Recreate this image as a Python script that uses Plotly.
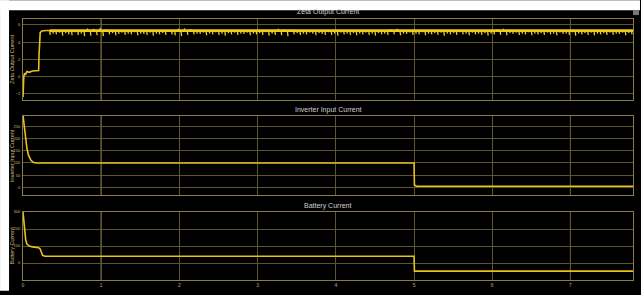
import numpy as np
import plotly.graph_objects as go

# ---------------- data ----------------
x_ticks = [0, 1, 2, 3, 4, 5, 6, 7]

# Zeta output current: start-up transient
zeta_t_start = [0, 0.005, 0.01, 0.02, 0.03, 0.05, 0.08, 0.12, 0.16, 0.2, 0.205, 0.21, 0.22, 0.24, 0.27, 0.3, 0.34]
zeta_i_start = [-2.4, -1.0, 0.0, 0.4, 0.2, 0.6, 0.5, 0.65, 0.7, 0.7, 2.5, 4.5, 5.1, 5.3, 5.35, 5.35, 5.35]
# Zeta output current: steady upper envelope of the ripple
zeta_level_t = [0.34, 7.8]
zeta_level_i = [5.35, 5.35]
# Zeta output current: ripple spike extremes sampled from t = 0.34 to t = 7.78
zeta_ripple_span = [0.34, 7.78]
zeta_ripple = [
    4.85, 5.0, 4.9, 5.1, 4.75, 5.05, 4.9, 4.8, 5.15, 4.85, 5.0, 4.7, 5.6, 4.75, 5.55, 4.8, 5.65, 4.7, 5.5, 4.9,
    5.05, 4.8, 4.95, 5.1, 4.85, 5.0, 4.9, 5.15, 4.8, 5.0, 4.95, 4.85, 5.1, 4.75, 5.0, 4.9, 5.05, 4.85, 5.2, 4.9,
    4.8, 5.55, 4.7, 5.6, 4.85, 5.5, 4.9, 5.0, 4.95, 5.1, 4.8, 5.0, 4.9, 5.15, 4.85, 5.0, 4.75, 5.05, 4.9, 5.1,
    4.85, 5.0, 4.95, 5.1, 4.8, 5.0, 4.9, 5.05, 4.85, 5.15, 4.75, 5.0, 4.85, 5.55, 4.8, 5.5, 4.7, 5.45, 4.9, 5.05,
    4.85, 5.0, 4.9, 5.1, 5.0, 4.8, 5.05, 4.95, 4.85, 5.15, 4.85, 5.0, 4.75, 5.1, 4.9, 5.0, 4.85, 5.05, 4.8, 5.0,
    4.9, 5.1, 4.85, 5.0, 4.75, 5.05, 4.9, 5.0, 4.85, 5.5, 4.9, 5.55, 4.8, 5.0, 4.95, 5.1, 4.85, 5.0, 4.9, 5.15,
    4.8, 5.0, 4.9, 5.05, 4.85, 5.1, 4.75, 5.0, 4.9, 5.05, 4.85, 5.15, 4.9, 5.0, 4.8, 5.1, 4.9, 5.0, 4.85, 5.05,
    4.75, 5.0, 4.9, 5.5, 4.85, 5.55, 4.8, 5.05, 4.95, 5.1, 4.85, 5.0, 4.9, 5.15, 4.8, 5.0, 4.9, 5.05, 4.85, 5.1,
    4.9, 5.0, 4.8, 5.1, 4.95, 5.0, 4.85, 5.15, 4.75, 5.0, 4.9, 5.05, 4.85, 5.1, 4.8, 5.0, 4.9, 5.05, 4.85, 5.1,
    4.85, 5.0, 4.95, 5.1, 4.8, 5.05, 4.9,
]
zeta_ticks = [-2, 0, 2, 4, 6]

# Inverter input current
inv_t = [0, 0.01, 0.02, 0.03, 0.05, 0.07, 0.1, 0.13, 0.17, 0.25, 5.0, 5.005, 5.03, 7.8]
inv_i = [295, 270, 240, 205, 160, 132, 112, 103, 100, 100, 100, 10, 5, 5]
inv_ticks = [0, 50, 100, 150, 200, 250]

# Battery current
bat_t = [0, 0.01, 0.02, 0.035, 0.05, 0.08, 0.12, 0.17, 0.2, 0.22, 0.25, 0.28, 5.0, 5.005, 7.8]
bat_i = [300, 240, 180, 135, 112, 100, 95, 92, 90, 82, 45, 40, 40, -48, -48]
bat_ticks = [0, 100, 200, 300]

titles = ["Zeta Output Current", "Inverter Input Current", "Battery Current"]
ylabels = ["Zeta Output Current", "Inverter Input Current", "Battery Current"]

# ---------------- figure ----------------
W, H = 641, 295
ML, MR, MT, MB = 23, 7, 19, 11
PW, PH = W - ML - MR, H - MT - MB

def px_x(px):
    return (px - ML) / PW

def px_y(py):
    return (H - MB - py) / PH

LINE = "#e8c21a"
GRID = "#5c5530"
FRAME = "#8a7d45"
TXT = "#d0d0d0"
TICKTXT = "#c8b870"

ripple_t = np.linspace(zeta_ripple_span[0], zeta_ripple_span[1], len(zeta_ripple))
# each ripple sample is drawn as a spike from the steady level to its extreme value
spike_x, spike_y = [], []
for t, v in zip(ripple_t, zeta_ripple):
    spike_x += [t, t + 0.008, None]
    spike_y += [zeta_level_i[0], v, None]

fig = go.Figure()
fig.add_trace(go.Scatter(x=zeta_t_start, y=zeta_i_start, mode="lines",
                         line=dict(color=LINE, width=1.6), xaxis="x", yaxis="y", showlegend=False))
fig.add_trace(go.Scatter(x=spike_x, y=spike_y, mode="lines", connectgaps=False,
                         line=dict(color="#f0cc20", width=1.3), xaxis="x", yaxis="y", showlegend=False))
fig.add_trace(go.Scatter(x=zeta_level_t, y=zeta_level_i, mode="lines",
                         line=dict(color="#f0cc20", width=2.8), xaxis="x", yaxis="y", showlegend=False))
fig.add_trace(go.Scatter(x=inv_t, y=inv_i, mode="lines",
                         line=dict(color=LINE, width=1.6), xaxis="x2", yaxis="y2", showlegend=False))
fig.add_trace(go.Scatter(x=bat_t, y=bat_i, mode="lines",
                         line=dict(color=LINE, width=1.6), xaxis="x3", yaxis="y3", showlegend=False))

domains = [
    [px_y(101), px_y(19)],
    [px_y(198), px_y(117)],
    [px_y(284), px_y(215)],
]
yranges = [[-2.69, 6.69], [-32, 294], [-100, 300]]
ytickvals = [zeta_ticks, inv_ticks, bat_ticks]

axis_common = dict(showgrid=True, gridcolor=GRID, gridwidth=1, zeroline=False,
                   showline=True, linecolor=FRAME, linewidth=1, mirror=True,
                   ticks="", tickfont=dict(size=4, color=TICKTXT, family="Liberation Sans"))

layout = dict(
    width=W, height=H,
    margin=dict(l=ML, r=MR, t=MT, b=MB),
    paper_bgcolor="black", plot_bgcolor="black",
    showlegend=False,
)
for k in range(3):
    sx = "" if k == 0 else str(k + 1)
    layout["xaxis" + sx] = dict(axis_common, domain=[0, 1], range=[0, 7.8],
                                tickvals=x_ticks, showticklabels=(k == 2),
                                anchor="y" + sx,
                                tickfont=dict(size=5, color="#aaaaaa", family="Liberation Sans"))
    layout["yaxis" + sx] = dict(axis_common, domain=domains[k], range=yranges[k],
                                tickvals=ytickvals[k], anchor="x" + sx, ticklabelstandoff=1)
fig.update_layout(**layout)

# panel titles and y labels
title_y = [px_y(12), px_y(111), px_y(209)]
label_y = [px_y(60), px_y(157.5), px_y(249.5)]
for k in range(3):
    fig.add_annotation(text=titles[k], xref="paper", yref="paper", x=0.5, y=title_y[k],
                       showarrow=False, font=dict(size=7, color=TXT, family="Liberation Sans"),
                       xanchor="center", yanchor="middle")
    fig.add_annotation(text=ylabels[k], xref="paper", yref="paper", x=px_x(12.5), y=label_y[k],
                       textangle=-90, showarrow=False,
                       font=dict(size=5.5, color=TICKTXT, family="Liberation Sans"),
                       xanchor="center", yanchor="middle")

# bright cursor-like vertical lines at x = 1 and x = 7
for k in range(3):
    sx = "" if k == 0 else str(k + 1)
    for xv in (1, 7):
        fig.add_shape(type="line", xref="x" + sx, yref="y" + sx + " domain",
                      x0=xv, x1=xv, y0=0, y1=1, line=dict(color="#cfc27a", width=1), layer="below")

# white outer strips (top and left) of the screenshot
fig.add_shape(type="rect", xref="paper", yref="paper", x0=px_x(0), x1=px_x(W), y0=px_y(10), y1=px_y(0),
              fillcolor="white", line=dict(width=0), layer="above")
fig.add_shape(type="rect", xref="paper", yref="paper", x0=px_x(0), x1=px_x(9), y0=px_y(H), y1=px_y(0),
              fillcolor="white", line=dict(width=0), layer="above")
fig.add_shape(type="rect", xref="paper", yref="paper", x0=px_x(634), x1=px_x(640), y0=px_y(15), y1=px_y(10),
              fillcolor="#777777", line=dict(width=0), layer="above")

fig.write_html("out.html", config={"displayModeBar": False},
               post_script="document.body.style.margin='0';document.body.style.padding='0';"
                           "document.body.style.background='black';"
                           "document.documentElement.style.background='black';"
                           "document.documentElement.style.overflow='hidden';")
